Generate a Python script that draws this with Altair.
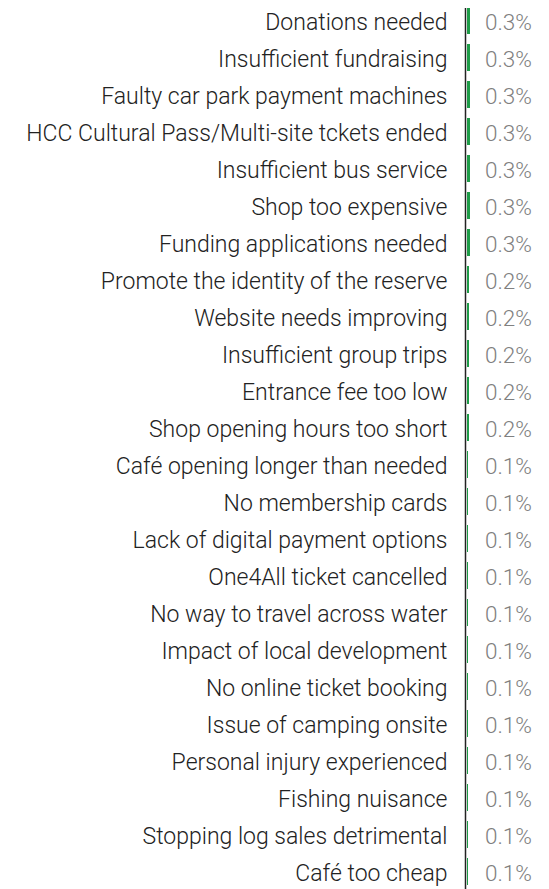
import altair as alt
import pandas as pd

categories = [
    "Donations needed",
    "Insufficient fundraising",
    "Faulty car park payment machines",
    "HCC Cultural Pass/Multi-site tckets ended",
    "Insufficient bus service",
    "Shop too expensive",
    "Funding applications needed",
    "Promote the identity of the reserve",
    "Website needs improving",
    "Insufficient group trips",
    "Entrance fee too low",
    "Shop opening hours too short",
    "Café opening longer than needed",
    "No membership cards",
    "Lack of digital payment options",
    "One4All ticket cancelled",
    "No way to travel across water",
    "Impact of local development",
    "No online ticket booking",
    "Issue of camping onsite",
    "Personal injury experienced",
    "Fishing nuisance",
    "Stopping log sales detrimental",
    "Café too cheap",
]
values = [0.3, 0.3, 0.3, 0.3, 0.3, 0.3, 0.3,
          0.2, 0.2, 0.2, 0.2, 0.2,
          0.1, 0.1, 0.1, 0.1, 0.1, 0.1, 0.1, 0.1, 0.1, 0.1, 0.1, 0.1]
value_labels = [
    "0.3%", "0.3%", "0.3%", "0.3%", "0.3%", "0.3%", "0.3%",
    "0.2%", "0.2%", "0.2%", "0.2%", "0.2%",
    "0.1%", "0.1%", "0.1%", "0.1%", "0.1%", "0.1%", "0.1%", "0.1%",
    "0.1%", "0.1%", "0.1%", "0.1%",
]

df = pd.DataFrame({"category": categories, "value": values, "label": value_labels})

FONT = "Roboto"

y_enc = alt.Y(
    "category:N",
    sort=None,
    scale=alt.Scale(paddingInner=0.27, paddingOuter=0.135),
    axis=alt.Axis(
        title=None,
        ticks=False,
        labelPadding=18,
        labelFontSize=23,
        labelFont=FONT,
        labelFontWeight=300,
        labelColor="#222222",
        labelLimit=0,
        labelOffset=2,
        domainColor="#222222",
        domainWidth=1.5,
        offset=2,
        grid=False,
    ),
)

x_scale = alt.Scale(domain=[0, 7.4], nice=False, zero=True)

base = alt.Chart(df)

bars = base.mark_bar(color="#1f9c48").encode(
    y=y_enc,
    x=alt.X("value:Q", scale=x_scale, axis=None),
)

text = base.mark_text(
    align="left", baseline="middle", dx=18, dy=2, fontSize=22.5, font=FONT,
    fontWeight=300, color="#808080"
).encode(
    y=alt.Y("category:N", sort=None),
    x=alt.X("zero:Q", scale=x_scale, axis=None),
    text="label:N",
).transform_calculate(zero="0")

chart = (
    alt.layer(bars, text)
    .properties(
        width=74,
        height=888,
        autosize=alt.AutoSizeParams(type="none"),
        padding={"left": 459, "top": -6, "right": 0, "bottom": 0},
    )
    .configure_view(stroke=None)
)

chart.save("out.html", embed_options={"renderer": "svg", "actions": False})
